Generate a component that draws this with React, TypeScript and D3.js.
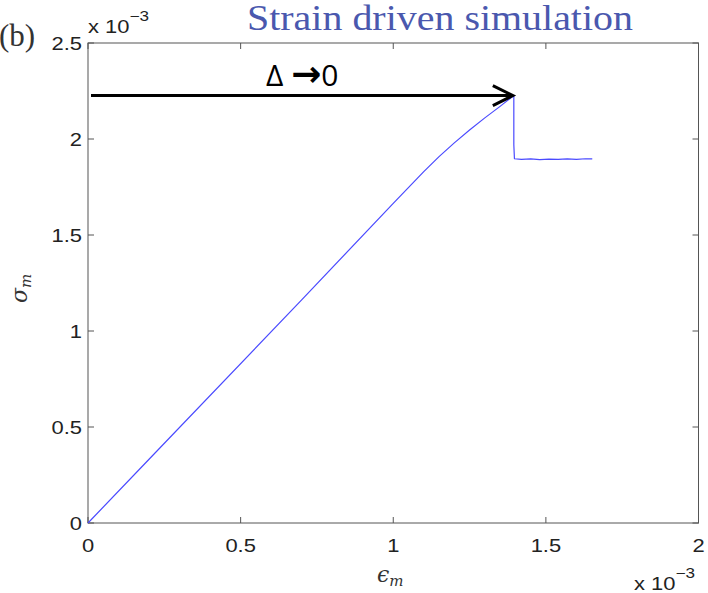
import React from "react";
import * as d3 from "d3";

const strain = [0, 0.2, 0.7, 1.0, 1.1, 1.15, 1.2, 1.25, 1.3, 1.35, 1.395, 1.395, 1.397, 1.42, 1.45, 1.48, 1.51, 1.54, 1.57, 1.6, 1.63, 1.652];
const stress = [0, 0.332, 1.162, 1.665, 1.830, 1.908, 1.980, 2.047, 2.110, 2.170, 2.226, 1.97, 1.897, 1.894, 1.896, 1.893, 1.895, 1.894, 1.896, 1.894, 1.897, 1.896];
const xTicks = [0, 0.5, 1, 1.5, 2];
const yTicks = [0, 0.5, 1, 1.5, 2, 2.5];
const peakStrain = 1.395;
const peakStress = 2.226;

const W = 708, H = 593;
const left = 88, right = 698.5, top = 43, bottom = 523;
const SX = 1.22;

export default function App() {
  const x = d3.scaleLinear().domain([0, 2]).range([left, right]);
  const y = d3.scaleLinear().domain([0, 2.5]).range([bottom, top]);
  const line = d3.line<number>().x((_, i) => x(strain[i])).y((d) => y(d));
  const axisColor = "#555";
  const tickFont = "'Liberation Sans', Arial, sans-serif";
  const tl = 6;
  const ax = x(peakStrain), ay = y(peakStress);
  return (
    <svg width={W} height={H} style={{ position: "absolute", left: 0, top: 0, background: "#fff" }}>
      <rect x={0} y={0} width={W} height={H} fill="#fff" />
      {/* title */}
      <text x={247} y={30} fontFamily="'Liberation Serif', 'Times New Roman', serif" fontSize={35} textLength={386} lengthAdjust="spacingAndGlyphs" fill="#4a58ae">Strain driven simulation</text>
      <text x={-1} y={46} fontFamily="'Liberation Serif', serif" fontSize={31} fill="#333">(b)</text>
      {/* plot box */}
      <rect x={left} y={top} width={right - left} height={bottom - top} fill="none" stroke={axisColor} strokeWidth={1} />
      {xTicks.map((t) => (
        <g key={"x" + t}>
          <line x1={x(t)} x2={x(t)} y1={bottom} y2={bottom - tl} stroke={axisColor} />
          <line x1={x(t)} x2={x(t)} y1={top} y2={top + tl} stroke={axisColor} />
          <text transform={`translate(${x(t)},552) scale(${SX},1)`} textAnchor="middle" fontFamily={tickFont} fontSize={18} fill="#222">{t}</text>
        </g>
      ))}
      {yTicks.map((t) => (
        <g key={"y" + t}>
          <line x1={left} x2={left + tl} y1={y(t)} y2={y(t)} stroke={axisColor} />
          <line x1={right} x2={right - tl} y1={y(t)} y2={y(t)} stroke={axisColor} />
          <text transform={`translate(82,${y(t) + 7}) scale(${SX},1)`} textAnchor="end" fontFamily={tickFont} fontSize={18} fill="#222">{t}</text>
        </g>
      ))}
      {/* exponent labels */}
      <text transform={`translate(88,33) scale(${SX},1)`} fontFamily={tickFont} fontSize={18} fill="#222">x 10<tspan dy={-12} fontSize={14}>−3</tspan></text>
      <text transform={`translate(634,590) scale(${SX},1)`} fontFamily={tickFont} fontSize={18} fill="#222">x 10<tspan dy={-12} fontSize={14}>−3</tspan></text>
      {/* axis labels */}
      <text x={377} y={582} fontFamily="'DejaVu Serif', serif" fontStyle="italic" fontSize={22} fill="#333">ϵ<tspan fontSize={15} dy={4}>m</tspan></text>
      <text transform="translate(27,303) rotate(-90)" fontFamily="'DejaVu Serif', serif" fontStyle="italic" fontSize={22} fill="#333">σ<tspan fontSize={15} dy={4}>m</tspan></text>
      {/* data */}
      <path d={line(stress) || ""} fill="none" stroke="#4a4aff" strokeWidth={1.2} strokeLinejoin="round" />
      {/* annotation arrow */}
      <line x1={91} x2={ax - 1} y1={ay} y2={ay} stroke="#000" strokeWidth={3} />
      <polyline points={`${ax - 21},${ay - 10} ${ax - 1},${ay} ${ax - 21},${ay + 10}`} fill="none" stroke="#000" strokeWidth={3} />
      <text x={266} y={86} fontFamily="'Open Sans', 'Liberation Sans', sans-serif" fontSize={30} fill="#000">Δ <tspan fontFamily="'DejaVu Sans', sans-serif" fontWeight="bold" fontSize={36}>→</tspan>0</text>
    </svg>
  );
}
